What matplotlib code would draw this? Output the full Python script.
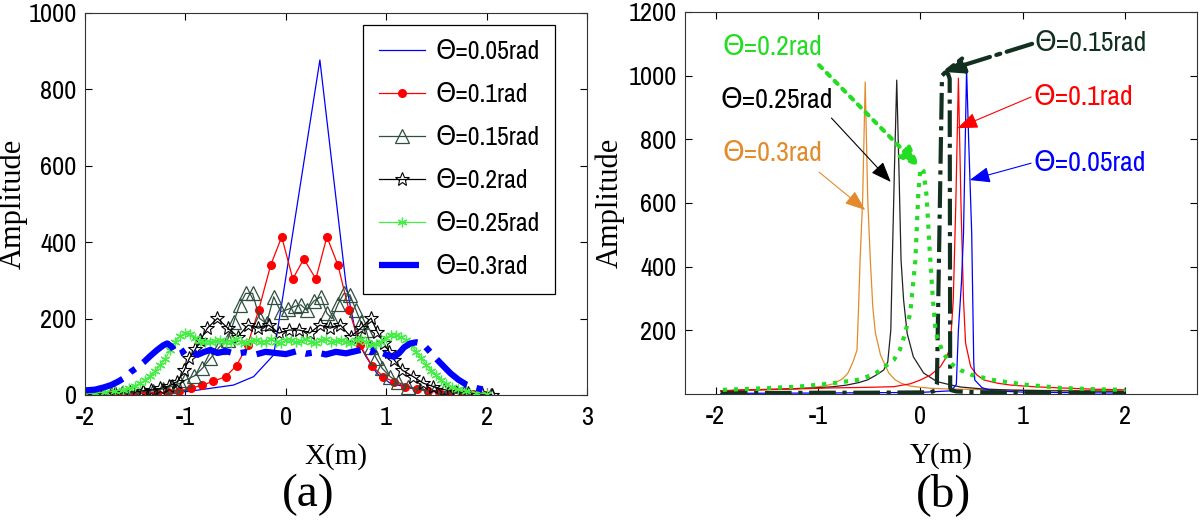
import matplotlib
matplotlib.use('Agg')
import matplotlib.pyplot as plt
from matplotlib import font_manager
from matplotlib.font_manager import FontProperties

plt.rcParams['axes.unicode_minus'] = False

# narrow font for numbers / legend (with DejaVu Sans behind it for Θ), serif for axis labels
def pick_narrow():
    names = {f.name for f in font_manager.fontManager.ttflist}
    if 'Liberation Sans Narrow' in names:
        return 'Liberation Sans Narrow'
    for n in sorted(names):
        if 'Narrow' in n or 'Condensed' in n:
            return n
    return None

NARROW = pick_narrow()

def nfont(size):
    if NARROW:
        return FontProperties(family=[NARROW, 'DejaVu Sans'], size=size)
    return FontProperties(family='DejaVu Sans', size=size * 0.85)

SERIF = 'Liberation Serif'

# ---------------- (a) amplitude along X ----------------
x_005 = [-2.0, -1.5, -0.98, -0.52, -0.32, -0.12, 0.34, 0.6, 0.71, 0.8, 0.91, 1.04, 1.24, 1.6, 2.05]
y_005 = [0, 4, 9, 26, 48, 105, 877, 290, 144, 100, 56, 31, 18, 8, 2]

x_01 = [-1.95, -1.84, -1.73, -1.62, -1.50, -1.39, -1.28, -1.17, -1.06, -0.94,
        -0.83, -0.72, -0.60, -0.49, -0.38, -0.27, -0.15, -0.04, 0.07, 0.18,
        0.30, 0.41, 0.52, 0.63, 0.74, 0.86, 0.97, 1.08, 1.19, 1.31,
        1.42, 1.53, 1.64, 1.76, 1.87, 1.98]
y_01 = [1, 1, 2, 2, 3, 4, 5, 7, 10, 18,
        26, 36, 48, 77, 131, 222, 340, 414, 304, 356,
        304, 414, 340, 222, 131, 76, 48, 34, 22, 15,
        10, 7, 5, 3, 2, 1]

x_015 = [-1.96, -1.85, -1.74, -1.63, -1.52, -1.42, -1.32, -1.22, -1.13, -1.05,
         -1.0, -0.91, -0.83, -0.75, -0.66, -0.58, -0.52, -0.46, -0.40, -0.33,
         -0.26, -0.19, -0.12, -0.05, 0.02, 0.09, 0.15, 0.21, 0.28, 0.35,
         0.41, 0.46, 0.52, 0.58, 0.64, 0.70, 0.75, 0.80, 0.85, 0.90,
         0.96, 1.04, 1.12, 1.22, 1.34, 1.48, 1.62, 1.78, 1.92, 2.04]
y_015 = [1, 2, 3, 4, 6, 8, 11, 16, 23, 31,
         39, 50, 70, 96, 126, 144, 190, 235, 266, 266,
         200, 188, 257, 218, 224, 232, 236, 222, 246, 257,
         214, 200, 238, 266, 262, 222, 190, 170, 125, 97,
         70, 48, 33, 22, 14, 9, 6, 4, 2, 1]

x_02 = [-2.0, -1.85, -1.7, -1.55, -1.42, -1.34, -1.25, -1.16, -1.08, -1.01,
        -0.96, -0.90, -0.85, -0.78, -0.68, -0.578, -0.476, -0.374, -0.272, -0.17,
        -0.068, 0.034, 0.136, 0.238, 0.34, 0.442, 0.544, 0.646, 0.748, 0.85,
        0.91, 0.98, 1.03, 1.08, 1.16, 1.27, 1.37, 1.47, 1.58, 1.7,
        1.82, 1.95, 2.05]
y_02 = [2, 3, 5, 8, 11, 13, 17, 24, 35, 65,
        96, 120, 144, 175, 201, 175, 153, 183, 175, 183,
        162, 170, 170, 162, 183, 175, 183, 153, 175, 201,
        166, 135, 113, 92, 65, 48, 31, 22, 14, 9,
        5, 3, 1]

x_025 = [-2.0, -1.9, -1.8, -1.7, -1.62, -1.56, -1.5, -1.45, -1.4, -1.35,
         -1.3, -1.25, -1.2, -1.15, -1.1, -1.05, -1.0, -0.95, -0.9, -0.85,
         -0.8, -0.75, -0.7, -0.65, -0.6, -0.55, -0.5, -0.45, -0.4, -0.35,
         -0.3, -0.25, -0.2, -0.15, -0.1, -0.05, 0.0, 0.05, 0.1, 0.15,
         0.2, 0.25, 0.3, 0.35, 0.4, 0.45, 0.5, 0.55, 0.6, 0.65,
         0.7, 0.75, 0.8, 0.85, 0.9, 0.95, 1.0, 1.05, 1.1, 1.15,
         1.2, 1.25, 1.3, 1.35, 1.4, 1.45, 1.5, 1.55, 1.6, 1.66,
         1.72, 1.8, 1.9, 2.0]
y_025 = [3, 5, 7, 10, 14, 18, 24, 31, 39, 50,
         62, 78, 95, 118, 140, 155, 162, 160, 150, 142,
         140, 138, 142, 145, 138, 140, 147, 140, 136, 142,
         145, 138, 140, 146, 139, 137, 143, 145, 138, 141,
         147, 140, 137, 143, 146, 138, 141, 145, 139, 136,
         143, 147, 140, 132, 133, 140, 150, 157, 158, 152,
         144, 130, 113, 96, 79, 64, 52, 40, 30, 22,
         15, 10, 6, 3]

x_03 = [-2.0, -1.9, -1.81, -1.74, -1.67, -1.6, -1.54, -1.47, -1.41, -1.35,
        -1.28, -1.22, -1.18, -1.13, -1.09, -1.04, -0.98, -0.93, -0.88, -0.82,
        -0.75, -0.68, -0.6, -0.5, -0.4, -0.3, -0.2, -0.1, 0.0, 0.1,
        0.2, 0.3, 0.4, 0.5, 0.6, 0.7, 0.78, 0.85, 0.9, 0.96,
        1.02, 1.08, 1.13, 1.18, 1.24, 1.3, 1.36, 1.42, 1.51, 1.58,
        1.64, 1.72, 1.8, 1.9, 2.05]
y_03 = [12, 14, 20, 26, 35, 46, 61, 74, 87, 102,
        118, 130, 135, 125, 105, 110, 122, 115, 105, 112,
        118, 110, 115, 108, 112, 106, 113, 110, 107, 114,
        108, 112, 106, 113, 109, 115, 120, 112, 122, 110,
        104, 100, 110, 125, 135, 138, 135, 118, 92, 73,
        57, 40, 27, 18, 10]

labels_a = ['Θ=0.05rad', 'Θ=0.1rad', 'Θ=0.15rad', 'Θ=0.2rad', 'Θ=0.25rad', 'Θ=0.3rad']

# ---------------- (b) amplitude along Y ----------------
yb_x_005 = [-1.95, -1.0, 0.0, 0.3, 0.35, 0.37, 0.40, 0.42, 0.45, 0.47,
            0.50, 0.51, 0.52, 0.53, 0.6, 0.7, 1.0, 1.5, 2.0]
yb_a_005 = [2, 3, 5, 10, 30, 200, 350, 505, 1020, 800,
            505, 300, 100, 44, 20, 10, 6, 4, 3]

yb_x_01 = [-1.95, -1.69, -1.2, -0.88, -0.5, -0.26, -0.1, 0.0, 0.1, 0.195,
           0.26, 0.29, 0.32, 0.345, 0.37, 0.395, 0.42, 0.44, 0.49, 0.55,
           0.62, 0.75, 0.88, 1.1, 1.37, 1.7, 2.0]
yb_a_01 = [10, 13, 16, 19, 21, 23, 32, 44, 60, 86,
           120, 148, 295, 600, 992, 600, 295, 160, 86, 60,
           44, 34, 28, 23, 19, 15, 13]

yb_x_015 = [-1.95, -1.5, -1.0, -0.5, 0.0, 0.1, 0.14, 0.16, 0.21, 0.24,
            0.27, 0.285, 0.29, 0.30, 0.35, 0.5, 0.8, 1.2, 1.6, 2.0]
yb_a_015 = [3, 3, 4, 4, 5, 6, 10, 30, 1000, 1010,
            1005, 990, 20, 12, 8, 6, 5, 4, 4, 3]

yb_x_02 = [-1.93, -1.6, -1.2, -0.9, -0.62, -0.45, -0.35, -0.26, -0.2, -0.16,
           -0.1, -0.05, -0.02, 0.0, 0.03, 0.06, 0.09, 0.12, 0.15, 0.22,
           0.3, 0.39, 0.5, 0.71, 1.0, 1.37, 1.7, 2.0]
yb_a_02 = [13, 17, 23, 32, 44, 62, 86, 107, 140, 180,
           254, 420, 640, 710, 700, 620, 450, 300, 191, 128,
           95, 75, 60, 44, 30, 19, 15, 13]

yb_x_025 = [-1.95, -1.69, -1.4, -1.04, -0.85, -0.72, -0.6, -0.52, -0.44, -0.36,
            -0.32, -0.29, -0.275, -0.255, -0.232, -0.21, -0.19, -0.165, -0.13, -0.07,
            0.03, 0.16, 0.3, 0.39, 0.6, 0.9, 1.3, 1.7, 2.0]
yb_a_025 = [10, 13, 15, 19, 23, 28, 36, 44, 58, 75,
            100, 200, 421, 700, 986, 700, 421, 295, 190, 117,
            66, 39, 28, 22, 16, 12, 10, 9, 8]

yb_x_03 = [-1.95, -1.6, -1.3, -1.1, -0.95, -0.85, -0.76, -0.71, -0.66, -0.62,
           -0.605, -0.59, -0.565, -0.54, -0.515, -0.49, -0.465, -0.44, -0.39, -0.31,
           -0.25, -0.19, -0.1, 0.0, 0.1, 0.25, 0.4, 0.7, 1.0, 1.4,
           1.7, 2.0]
yb_a_03 = [10, 12, 15, 19, 25, 32, 48, 65, 100, 138,
           270, 420, 610, 980, 610, 420, 270, 191, 122, 66,
           45, 34, 25, 21, 18, 16, 15, 13, 12, 11,
           10, 10]

C_ORANGE = '#e38b2c'
C_GREEN_B = '#22dd22'
C_DKGREEN = '#12301f'
C_TRI = '#2f4f3f'

fig = plt.figure(figsize=(12, 5.24), dpi=100)
ax1 = fig.add_axes([0.0708, 0.2462, 0.4183, 0.7290])
ax2 = fig.add_axes([0.5708, 0.2481, 0.4267, 0.7290])

# (a)
ax1.plot(x_005, y_005, color='blue', lw=0.9, label=labels_a[0])
ax1.plot(x_01, y_01, color='red', lw=0.9, marker='o', ms=5.5, label=labels_a[1])
ax1.plot(x_015, y_015, color=C_TRI, lw=0.9, marker='^', ms=10, mfc='none', mew=0.9, label=labels_a[2])
ax1.plot(x_02, y_02, color='black', lw=0.9, marker='*', ms=10, mfc='none', mew=0.8, label=labels_a[3])
ax1.plot(x_025, y_025, color='#44ee44', lw=0.9, marker=(6, 2, 0), ms=7, mew=0.9, label=labels_a[4])
ax1.plot(x_03, y_03, color='blue', lw=4.5, ls='-.', label=labels_a[5])
ax1.set_xlim(-2, 3)
ax1.set_ylim(0, 1000)
ax1.set_xticks([-2, -1, 0, 1, 2, 3])
ax1.set_yticks([0, 200, 400, 600, 800, 1000])
leg = ax1.legend(loc='upper right', bbox_to_anchor=(0.936, 0.969), borderaxespad=0,
                 fancybox=False, edgecolor='black', framealpha=1, prop=nfont(18.5),
                 handlelength=1.8, handletextpad=0.4, labelspacing=0.78, borderpad=0.6)
leg.get_frame().set_linewidth(0.9)

# (b)
ax2.plot(yb_x_03, yb_a_03, color=C_ORANGE, lw=0.9)
ax2.plot(yb_x_025, yb_a_025, color='#222222', lw=0.9)
ax2.plot(yb_x_01, yb_a_01, color='red', lw=0.9)
ax2.plot(yb_x_005, yb_a_005, color='blue', lw=0.9)
ax2.plot(yb_x_015, yb_a_015, color=C_DKGREEN, lw=3, ls='-.')
ax2.plot(yb_x_02, yb_a_02, color=C_GREEN_B, lw=3, ls=':')
ax2.set_xlim(-2.3, 2.7)
ax2.set_ylim(0, 1200)
ax2.set_xticks([-2, -1, 0, 1, 2])
ax2.set_yticks([200, 400, 600, 800, 1000, 1200])

# labels and arrows in (b)
notes = [
    ('Θ=0.2rad', C_GREEN_B, (-1.93, 1090), (-0.99, 1033), (0.0, 710), 3, ':'),
    ('Θ=0.25rad', 'black', (-1.95, 923), (-0.87, 867), (-0.29, 666), 0.8, '-'),
    ('Θ=0.3rad', C_ORANGE, (-1.93, 757), (-0.99, 697), (-0.54, 578), 0.8, '-'),
    ('Θ=0.15rad', C_DKGREEN, (1.11, 1102), (1.09, 1100), (0.21, 1012), 3, '-.'),
    ('Θ=0.1rad', 'red', (1.10, 930), (1.08, 933), (0.36, 835), 0.8, '-'),
    ('Θ=0.05rad', 'blue', (1.10, 725), (1.08, 725), (0.48, 672), 0.8, '-'),
]
for txt, col, tpos, start, end, lw, ls in notes:
    ax2.text(tpos[0], tpos[1], txt, color=col, fontproperties=nfont(20),
             ha='left', va='center')
    ax2.annotate('', xy=end, xytext=start,
                 arrowprops=dict(arrowstyle='-|>,head_length=0.9,head_width=0.35',
                                 color=col, lw=lw, ls=ls, mutation_scale=14,
                                 shrinkA=0, shrinkB=0))

for ax in (ax1, ax2):
    ax.tick_params(direction='in', top=True, right=True, length=5, width=0.8)
    ax.tick_params(axis='x', pad=8)
    ax.tick_params(axis='y', pad=6)
    for lab in ax.get_xticklabels() + ax.get_yticklabels():
        lab.set_fontproperties(nfont(19))
    for sp in ax.spines.values():
        sp.set_linewidth(0.8)
        sp.set_color('#333333')
    ax.set_ylabel('Amplitude', family=SERIF, fontsize=22)

ax1.set_xlabel('X(m)', family=SERIF, fontsize=21)
ax2.set_xlabel('Y(m)', family=SERIF, fontsize=21)
ax1.xaxis.set_label_coords(0.5, -0.125)
ax2.xaxis.set_label_coords(0.5, -0.125)
ax1.yaxis.set_label_coords(-0.114, 0.5)
ax2.yaxis.set_label_coords(-0.117, 0.5)

fig.text(308 / 1200, 1 - 495 / 524, '(a)', family=SERIF, fontsize=34, ha='center', va='center')
fig.text(943 / 1200, 1 - 495 / 524, '(b)', family=SERIF, fontsize=34, ha='center', va='center')

fig.savefig('out.png', dpi=100)
